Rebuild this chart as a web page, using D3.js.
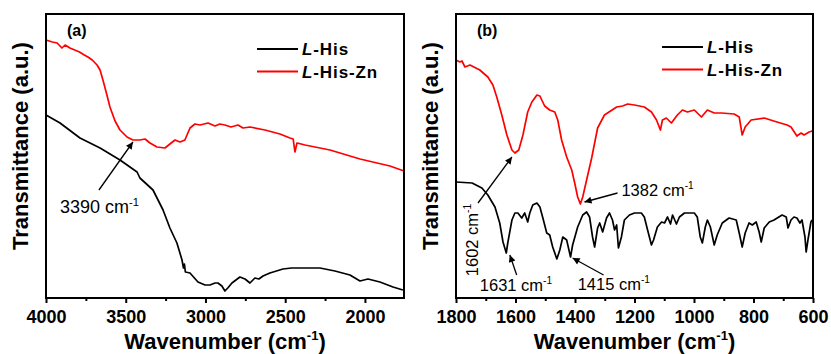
<!DOCTYPE html>
<html>
<head>
<meta charset="utf-8">
<script src="https://cdn.jsdelivr.net/npm/d3@7"></script>
<style>
  html, body { margin: 0; padding: 0; background: #fff; }
  svg { display: block; font-family: Arial, "Liberation Sans", sans-serif; }
</style>
</head>
<body>
<svg id="chart" width="831" height="354"></svg>
<script>
// ---- FTIR spectra (transmittance in arbitrary units) ----

// Panel (a): 4000–1750 cm-1
const waveA_His   = [4000, 3912, 3787, 3661, 3536, 3429, 3411, 3329, 3266, 3223, 3179, 3147, 3138, 3132, 3126, 3097, 3047, 3003, 2972, 2940, 2922, 2897, 2878, 2860, 2834, 2784, 2752, 2721, 2690, 2665, 2639, 2596, 2514, 2460, 2407, 2282, 2188, 2094, 2031, 1981, 1906, 1824, 1762];
const transA_His  = [183, 175, 160, 150, 138, 126, 120, 108, 88, 70, 55, 38, 30, 34, 26, 25, 16, 13, 13, 15, 15, 12, 7, 10, 15, 21, 19, 15, 20, 19, 22, 25, 29, 30, 30, 30, 27, 23, 17, 19, 16, 11, 8];

const waveA_Zn    = [4000, 3960, 3930, 3900, 3880, 3850, 3820, 3790, 3760, 3737, 3710, 3680, 3661, 3643, 3618, 3599, 3567, 3536, 3492, 3455, 3411, 3379, 3348, 3304, 3254, 3223, 3191, 3160, 3129, 3097, 3066, 3034, 2984, 2940, 2910, 2878, 2840, 2796, 2765, 2721, 2627, 2533, 2470, 2450, 2439, 2426, 2400, 2376, 2219, 2031, 1843, 1755];
const transA_Zn   = [258, 256, 255, 250, 253, 250, 248, 246, 243, 241, 238, 233, 228, 218, 203, 191, 177, 168, 161, 158, 158, 159, 155, 151, 150, 154, 158, 156, 158, 170, 174, 173, 175, 172, 174, 173, 171, 173, 170, 171, 168, 164, 160, 159, 146, 155, 154, 153, 148, 139, 132, 127];

// Panel (b): 1800–600 cm-1
const waveB_His   = [1800, 1746, 1713, 1693, 1669, 1653, 1642, 1631, 1626, 1612, 1602, 1592, 1579, 1569, 1559, 1552, 1542, 1528, 1518, 1508, 1495, 1485, 1475, 1461, 1451, 1441, 1428, 1415, 1408, 1391, 1374, 1361, 1351, 1341, 1334, 1324, 1317, 1307, 1294, 1284, 1274, 1267, 1260, 1254, 1244, 1234, 1217, 1200, 1177, 1167, 1156, 1143, 1136, 1123, 1109, 1099, 1089, 1079, 1072, 1059, 1049, 1032, 999, 989, 979, 972, 962, 955, 945, 932, 922, 905, 882, 858, 848, 838, 828, 815, 804, 791, 781, 774, 764, 747, 731, 704, 690, 684, 674, 664, 654, 644, 637, 627, 623, 617, 607, 603];
const transB_His  = [116, 115, 110, 103, 91, 75, 56, 45, 55, 78, 85, 85, 80, 85, 76, 85, 93, 95, 91, 80, 65, 63, 51, 39, 48, 61, 58, 41, 53, 71, 83, 86, 81, 61, 51, 70, 75, 66, 80, 85, 78, 68, 73, 50, 61, 78, 83, 85, 85, 81, 68, 53, 58, 71, 76, 75, 81, 74, 83, 74, 81, 85, 85, 81, 61, 55, 71, 78, 71, 53, 63, 75, 80, 78, 65, 51, 65, 75, 73, 76, 66, 56, 70, 76, 78, 83, 81, 70, 78, 81, 80, 75, 78, 61, 46, 58, 76, 78];

const waveB_Zn    = [1800, 1787, 1780, 1770, 1753, 1720, 1693, 1676, 1663, 1646, 1629, 1612, 1602, 1589, 1575, 1559, 1545, 1528, 1518, 1502, 1485, 1468, 1458, 1445, 1428, 1411, 1401, 1391, 1382, 1374, 1361, 1344, 1324, 1301, 1260, 1240, 1223, 1200, 1167, 1143, 1126, 1113, 1106, 1093, 1076, 1056, 1039, 1022, 999, 975, 955, 932, 908, 865, 848, 838, 828, 808, 764, 721, 687, 674, 654, 640, 630, 613, 603];
const transB_Zn   = [238, 236, 237, 231, 233, 228, 221, 213, 201, 183, 163, 148, 145, 148, 163, 186, 196, 203, 202, 192, 188, 186, 178, 158, 141, 128, 115, 101, 94, 101, 118, 140, 170, 183, 191, 192, 194, 193, 191, 186, 178, 168, 178, 180, 175, 183, 188, 186, 188, 181, 188, 185, 185, 184, 181, 163, 171, 178, 180, 176, 173, 171, 162, 165, 163, 166, 167];

// Axis ticks
const ticksA      = [4000, 3500, 3000, 2500, 2000];
const minorTicksA = [3750, 3250, 2750, 2250, 1750];
const ticksB      = [1800, 1600, 1400, 1200, 1000, 800, 600];
const minorTicksB = [1700, 1500, 1300, 1100, 900, 700];

// Legend entries
const seriesNames  = ["His", "His-Zn"];
const seriesColors = ["#000000", "#ff0000"];

// Peak annotations (arrow tip/tail, label position in data units)
const notesA = [
  { tip: [3455, 156], tail: [3668, 108], label: "3390", at: [3912, 85], rotate: false }
];
const notesB = [
  { tip: [1612, 141], tail: [1726, 95],  label: "1602", at: [1727, 58], rotate: true },
  { tip: [1619, 43],  tail: [1596, 23],  label: "1631", at: [1720, 7],  rotate: false },
  { tip: [1408, 40],  tail: [1304, 23],  label: "1415", at: [1391, 8],  rotate: false },
  { tip: [1368, 96],  tail: [1257, 105], label: "1382", at: [1244, 102], rotate: false }
];

// ---- layout ----
const svg = d3.select("#chart");
const plotTop = 14, plotBottom = 298;

svg.append("defs").append("marker")
  .attr("id", "arrow")
  .attr("viewBox", "0 0 10 10")
  .attr("refX", 10).attr("refY", 5)
  .attr("markerUnits", "userSpaceOnUse")
  .attr("markerWidth", 9).attr("markerHeight", 7)
  .attr("orient", "auto")
  .append("path").attr("d", "M0,0 L10,5 L0,10 Z").attr("fill", "#000");

function drawPanel(cfg) {
  const x = d3.scaleLinear().domain(cfg.domain).range([cfg.left, cfg.right]);
  const y = d3.scaleLinear().domain([0, 284]).range([plotBottom, plotTop]);
  const g = svg.append("g");

  const line = d3.line().x(d => x(d[0])).y(d => y(d[1]));

  cfg.series.forEach((s, i) => {
    g.append("path")
      .datum(d3.zip(s.wave, s.trans))
      .attr("fill", "none")
      .attr("stroke", seriesColors[i])
      .attr("stroke-width", 1.7)
      .attr("stroke-linejoin", "round")
      .attr("d", line);
  });

  // frame
  g.append("rect")
    .attr("x", cfg.left).attr("y", plotTop)
    .attr("width", cfg.right - cfg.left).attr("height", plotBottom - plotTop)
    .attr("fill", "none").attr("stroke", "#000").attr("stroke-width", 2);

  // bottom axis with major and minor ticks
  const axis = g.append("g").attr("transform", `translate(0,${plotBottom})`)
    .call(d3.axisBottom(x).tickValues(cfg.ticks).tickSize(5).tickPadding(7).tickFormat(d3.format("d")));
  axis.select(".domain").remove();
  axis.selectAll(".tick line").attr("stroke-width", 2);
  axis.selectAll(".tick text")
    .attr("font-size", 18).attr("font-weight", "bold").attr("fill", "#000")
    .attr("font-family", "Arial, 'Liberation Sans', sans-serif");
  g.append("g").attr("transform", `translate(0,${plotBottom})`)
    .call(d3.axisBottom(x).tickValues(cfg.minor.filter(v => x(v) <= cfg.right + 0.5)).tickSize(3).tickFormat(""))
    .call(a => a.select(".domain").remove())
    .selectAll(".tick line").attr("stroke-width", 2);

  // axis titles
  const xt = g.append("text")
    .attr("x", (cfg.left + cfg.right) / 2).attr("y", 349)
    .attr("text-anchor", "middle").attr("font-size", 22).attr("font-weight", "bold");
  xt.append("tspan").text(cfg.xTitle);
  xt.append("tspan").attr("font-size", 13).attr("dy", -9).text("-1");
  xt.append("tspan").attr("dy", 9).text(")");

  g.append("text")
    .attr("transform", `translate(${cfg.left - 18},146) rotate(-90)`)
    .attr("text-anchor", "middle").attr("font-size", 22).attr("font-weight", "bold")
    .text("Transmittance (a.u.)");

  // panel tag
  g.append("text").attr("x", cfg.left + 21).attr("y", 36)
    .attr("font-size", 16).attr("font-weight", "bold").text(cfg.tag);

  // legend
  seriesNames.forEach((name, i) => {
    const ly = cfg.legendY + i * 22.5;
    g.append("line")
      .attr("x1", cfg.left + cfg.legendX).attr("x2", cfg.left + cfg.legendX + 41)
      .attr("y1", ly).attr("y2", ly)
      .attr("stroke", seriesColors[i]).attr("stroke-width", 2);
    const t = g.append("text")
      .attr("x", cfg.left + cfg.legendX + 45).attr("y", ly + 6)
      .attr("font-size", 17).attr("font-weight", "bold").attr("letter-spacing", 0.9);
    t.append("tspan").attr("font-style", "italic").text("L");
    t.append("tspan").text("-" + name);
  });

  // annotations
  cfg.notes.forEach(n => {
    g.append("line")
      .attr("x1", x(n.tail[0])).attr("y1", y(n.tail[1]))
      .attr("x2", x(n.tip[0])).attr("y2", y(n.tip[1]))
      .attr("stroke", "#000").attr("stroke-width", 1.3)
      .attr("marker-end", "url(#arrow)");
    const t = g.append("text").attr("font-size", cfg.noteSize);
    if (n.rotate) {
      t.attr("transform", `translate(${x(n.at[0])},${y(n.at[1])}) rotate(-90)`)
        .attr("text-anchor", "middle");
    } else {
      t.attr("x", x(n.at[0])).attr("y", y(n.at[1]));
    }
    t.append("tspan").text(n.label + " cm");
    t.append("tspan").attr("font-size", cfg.noteSize * 0.62).attr("dy", -7).text("-1");
  });
}

drawPanel({
  left: 46, right: 404, domain: [4000, 1755],
  ticks: ticksA, minor: minorTicksA, tag: "(a)",
  xTitle: "Wavenumber (cm",
  series: [{ wave: waveA_His, trans: transA_His }, { wave: waveA_Zn, trans: transA_Zn }],
  legendX: 211, legendY: 49,
  notes: notesA, noteSize: 18
});

drawPanel({
  left: 456, right: 813, domain: [1800, 600],
  ticks: ticksB, minor: minorTicksB, tag: "(b)",
  xTitle: "Wavenumber  (cm",
  series: [{ wave: waveB_His, trans: transB_His }, { wave: waveB_Zn, trans: transB_Zn }],
  legendX: 206, legendY: 47,
  notes: notesB, noteSize: 16.5
});
</script>
</body>
</html>
